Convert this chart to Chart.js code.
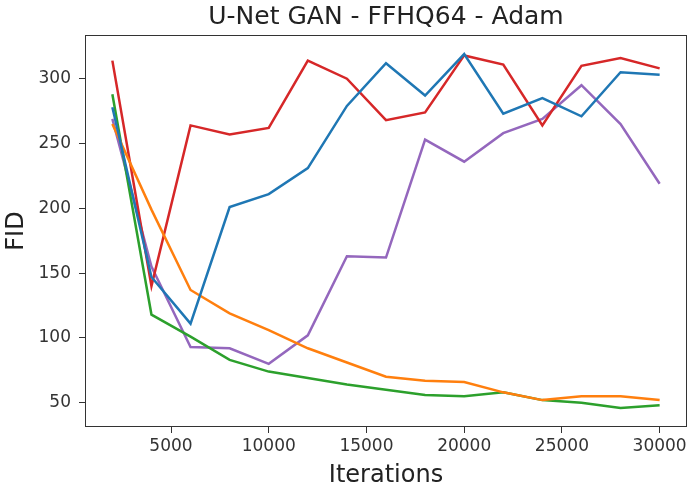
<!DOCTYPE html>
<html>
<head>
<meta charset="utf-8">
<script src="https://cdn.jsdelivr.net/npm/chart.js@4/dist/chart.umd.min.js"></script>
<style>
  html, body { margin: 0; padding: 0; background: #fff; }
  #wrap { width: 688px; height: 491px; }
</style>
</head>
<body>
<div id="wrap"><canvas id="fidChart" width="688" height="491"></canvas></div>
<script>
// data
const iterations = [2000, 4000, 6000, 8000, 10000, 12000, 14000, 16000, 18000, 20000, 22000, 24000, 26000, 28000, 30000];
const blueFid   = [278, 147, 111, 201, 211, 231, 279, 312, 287, 319, 273, 285, 271, 305, 303];
const orangeFid = [265, 199, 137, 119, 106, 92, 81, 70, 67, 66, 58, 52, 55, 55, 52];
const greenFid  = [288, 118, 101, 83, 74, 69, 64, 60, 56, 55, 58, 52, 50, 46, 48];
const redFid    = [314, 140, 264, 257, 262, 314, 300, 268, 274, 318, 311, 264, 310, 316, 308];
const purpleFid = [269, 155, 93, 92, 80, 102, 163, 162, 253, 236, 258, 269, 295, 265, 219];

const xTicks = [5000, 10000, 15000, 20000, 25000, 30000];
const yTicks = [50, 100, 150, 200, 250, 300];

const seriesList = [
    { name: 'blue',   values: blueFid,   color: '#1f77b4' },
    { name: 'orange', values: orangeFid, color: '#ff7f0e' },
    { name: 'green',  values: greenFid,  color: '#2ca02c' },
    { name: 'red',    values: redFid,    color: '#d62728' },
    { name: 'purple', values: purpleFid, color: '#9467bd' }
];

// frame around the plot area, like matplotlib spines
const frameBox = {
    id: 'frameBox',
    afterDraw(chart) {
        const a = chart.chartArea;
        const c = chart.ctx;
        c.save();
        c.strokeStyle = '#333';
        c.lineWidth = 1;
        c.strokeRect(Math.round(a.left) + 0.5, Math.round(a.top) + 0.5,
                     Math.round(a.right - a.left) - 1, Math.round(a.bottom - a.top) - 1);
        c.restore();
    }
};

const ctx = document.getElementById('fidChart').getContext('2d');
new Chart(ctx, {
    type: 'line',
    data: {
        datasets: seriesList.map(s => ({
            label: s.name,
            data: iterations.map((it, i) => ({ x: it, y: s.values[i] })),
            borderColor: s.color,
            backgroundColor: s.color,
            borderWidth: 2.5,
            pointRadius: 0,
            fill: false,
            tension: 0
        }))
    },
    options: {
        responsive: false,
        animation: false,
        layout: { padding: { left: 0, right: 1, top: 0, bottom: 0 } },
        plugins: {
            legend: { display: false },
            tooltip: { enabled: false },
            title: {
                display: true,
                text: 'U-Net GAN - FFHQ64 - Adam',
                fullSize: false,
                color: '#222',
                font: { family: 'DejaVu Sans', size: 25, weight: 'normal', lineHeight: 1.2 },
                padding: { top: 2, bottom: 3 }
            }
        },
        scales: {
            x: {
                type: 'linear',
                min: 600,
                max: 31400,
                afterBuildTicks: scale => { scale.ticks = xTicks.map(v => ({ value: v })); },
                afterFit: scale => {
                    scale.height = 64;
                    scale.paddingLeft = 0;
                    scale.paddingRight = 0;
                },
                grid: { drawOnChartArea: false, tickLength: 6, color: '#333', tickColor: '#333' },
                border: { display: false },
                ticks: {
                    color: '#333',
                    font: { family: 'DejaVu Sans', size: 17 },
                    padding: 3,
                    maxRotation: 0,
                    callback: v => String(v)
                },
                title: {
                    display: true,
                    text: 'Iterations',
                    color: '#222',
                    font: { family: 'DejaVu Sans', size: 24, lineHeight: 1.2 },
                    padding: { top: 1, bottom: 1 }
                }
            },
            y: {
                type: 'linear',
                min: 31.25,
                max: 333.75,
                afterBuildTicks: scale => { scale.ticks = yTicks.map(v => ({ value: v })); },
                afterFit: scale => {
                    scale.width = 85;
                    scale.paddingTop = 0;
                    scale.paddingBottom = 0;
                },
                grid: { drawOnChartArea: false, tickLength: 6, color: '#333', tickColor: '#333' },
                border: { display: false },
                ticks: {
                    color: '#333',
                    font: { family: 'DejaVu Sans', size: 17 },
                    padding: 8,
                    callback: v => String(v)
                },
                title: {
                    display: true,
                    text: 'FID',
                    color: '#222',
                    font: { family: 'DejaVu Sans', size: 24, lineHeight: 1.2 },
                    padding: { top: 2.5, bottom: 2.5 }
                }
            }
        }
    },
    plugins: [frameBox]
});
</script>
</body>
</html>
